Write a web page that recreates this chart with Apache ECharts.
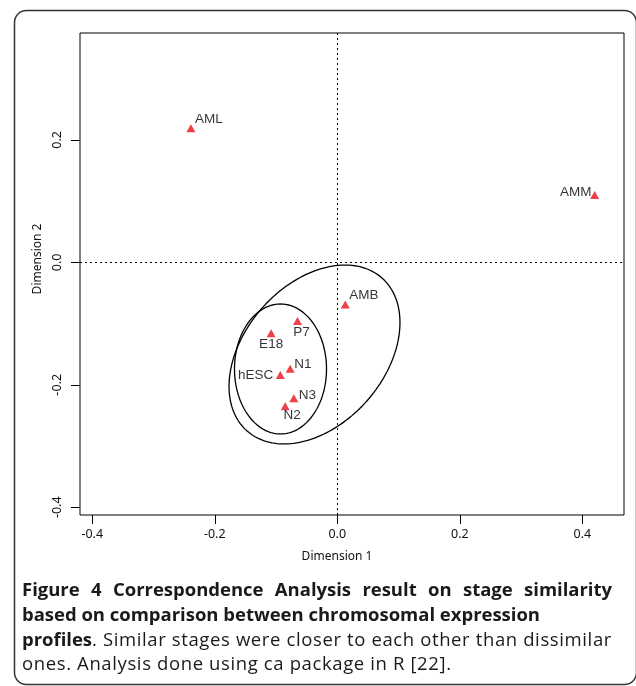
<!DOCTYPE html>
<html>
<head>
<meta charset="utf-8">
<script src="https://cdn.jsdelivr.net/npm/echarts@6/dist/echarts.min.js"></script>
<style>
  html, body { margin: 0; padding: 0; background: #fff; }
  #wrap { position: relative; width: 636px; height: 686px; overflow: hidden; }
  #chart { position: absolute; left: 0; top: 0; width: 636px; height: 686px; }
  #caption { position: absolute; left: 22px; top: 577px; width: 600px;
    font-family: "Open Sans", "Noto Sans", sans-serif; font-size: 18.5px; line-height: 24.8px; color: #1a1a1a; }
  #caption div { white-space: nowrap; display: inline-block; }
  #caption b { font-weight: 700; }
</style>
</head>
<body>
<div id="wrap">
  <div id="chart"></div>
  <div id="caption">
    <div id="cl1"><b>Figure 4 Correspondence Analysis result on stage similarity</b></div><br>
    <div id="cl2"><b>based on comparison between chromosomal expression</b></div><br>
    <div id="cl3"><b>profiles</b><span>. Similar stages were closer to each other than dissimilar</span></div><br>
    <div id="cl4">ones. Analysis done using ca package in R [22].</div>
  </div>
</div>
<script>
// ---- data ----
const stageNames = ['AML', 'AMM', 'AMB', 'P7', 'E18', 'N1', 'hESC', 'N3', 'N2'];
const dimension1 = [-0.239, 0.420, 0.013, -0.065, -0.108, -0.077, -0.093, -0.071, -0.085];
const dimension2 = [0.219, 0.110, -0.069, -0.096, -0.116, -0.174, -0.184, -0.222, -0.235];
const xTickValues = [-0.4, -0.2, 0.0, 0.2, 0.4];
const yTickValues = [-0.4, -0.2, 0.0, 0.2];
// ellipses: centre (dim1, dim2), semi-axes, rotation (degrees)
const ellipseCentre1 = [-0.0372, -0.0927];
const ellipseCentre2 = [-0.1505, -0.1742];
const ellipseSemiA = [0.1665, 0.0751];
const ellipseSemiB = [0.1143, 0.1061];
const ellipseAngle = [48.65, 0];

// ---- caption line fitting (layout only) ----
(function () {
  const cap = document.getElementById('caption');
  const l2 = document.getElementById('cl2');
  const lsBold = (518 - l2.getBoundingClientRect().width) / l2.textContent.length;
  cap.querySelectorAll('b').forEach(b => { b.style.letterSpacing = lsBold.toFixed(3) + 'px'; });
  const l3 = document.getElementById('cl3');
  const regChars = l3.querySelector('span').textContent.length;
  const lsReg = Math.max(0, (590 - l3.getBoundingClientRect().width) / regChars);
  cap.style.letterSpacing = lsReg.toFixed(3) + 'px';
  cap.querySelectorAll('b').forEach(b => { b.style.letterSpacing = lsBold.toFixed(3) + 'px'; });
  const l1 = document.getElementById('cl1');
  const spaces = (l1.textContent.match(/ /g) || []).length;
  l1.style.wordSpacing = ((590 - l1.getBoundingClientRect().width) / spaces).toFixed(3) + 'px';
})();

// ---- label placement (style) ----
const labelPlace = {
  AML:  { align: 'left',   verticalAlign: 'middle', offset: [4, -9] },
  AMM:  { align: 'right',  verticalAlign: 'middle', offset: [-3, -3] },
  AMB:  { align: 'left',   verticalAlign: 'middle', offset: [4, -9] },
  P7:   { align: 'center', verticalAlign: 'middle', offset: [4, 11] },
  E18:  { align: 'center', verticalAlign: 'middle', offset: [0, 11] },
  N1:   { align: 'left',   verticalAlign: 'middle', offset: [4, -5] },
  hESC: { align: 'right',  verticalAlign: 'middle', offset: [-7, 0] },
  N3:   { align: 'left',   verticalAlign: 'middle', offset: [5, -3] },
  N2:   { align: 'center', verticalAlign: 'middle', offset: [7, 9] }
};

const pointData = stageNames.map((n, i) => ({
  name: n,
  value: [dimension1[i], dimension2[i]],
  label: Object.assign({ show: true, position: 'inside', formatter: n }, labelPlace[n])
}));

const ellipseData = ellipseCentre1.map((c, i) => [c, ellipseCentre2[i], ellipseSemiA[i], ellipseSemiB[i], ellipseAngle[i]]);

const chart = echarts.init(document.getElementById('chart'), null, { renderer: 'canvas' });
const tickFont = { fontFamily: 'Noto Sans', fontSize: 12.5, color: '#111' };
const fmt = v => (Math.abs(v) < 1e-9 ? '0.0' : Number(v).toFixed(1));

chart.setOption({
  animation: false,
  backgroundColor: '#fff',
  graphic: [{
    type: 'rect', z: -10, silent: true,
    shape: { x: 14.5, y: 10.5, width: 622, height: 674, r: 12 },
    style: { fill: 'none', stroke: '#333', lineWidth: 1.5 }
  }],
  grid: { left: 80, top: 33, width: 544, height: 482, show: true, borderColor: '#000', borderWidth: 1, backgroundColor: 'transparent' },
  xAxis: {
    type: 'value', min: -0.42, max: 0.468, position: 'bottom',
    axisLine: { show: false, onZero: false },
    splitLine: { show: false },
    axisTick: { show: true, length: 9, lineStyle: { color: '#000' }, customValues: xTickValues },
    axisLabel: Object.assign({ margin: 13, formatter: fmt, customValues: xTickValues }, tickFont),
    name: 'Dimension 1', nameLocation: 'middle', nameGap: 36,
    nameTextStyle: { fontFamily: 'Noto Sans', fontSize: 12, color: '#111', padding: [0, 30, 0, 0] }
  },
  yAxis: {
    type: 'value', min: -0.4126, max: 0.3744, position: 'left',
    axisLine: { show: false, onZero: false },
    splitLine: { show: false },
    axisTick: { show: true, length: 9, lineStyle: { color: '#000' }, customValues: yTickValues },
    axisLabel: Object.assign({ margin: 16, rotate: 90, formatter: fmt, customValues: yTickValues }, tickFont),
    name: 'Dimension 2', nameLocation: 'middle', nameGap: 36,
    nameTextStyle: { fontFamily: 'Noto Sans', fontSize: 12, color: '#111', padding: [0, 0, 0, 30] }
  },
  series: [
    {
      type: 'custom', z: 2, silent: true,
      data: ellipseData,
      renderItem: function (params, api) {
        const cx = api.value(0), cy = api.value(1), a = api.value(2), b = api.value(3);
        const t = api.value(4) * Math.PI / 180;
        const pts = [];
        for (let k = 0; k <= 180; k++) {
          const s = k / 180 * 2 * Math.PI;
          const ex = a * Math.cos(s), ey = b * Math.sin(s);
          pts.push(api.coord([cx + ex * Math.cos(t) - ey * Math.sin(t), cy + ex * Math.sin(t) + ey * Math.cos(t)]));
        }
        return { type: 'polyline', shape: { points: pts }, style: { fill: null, stroke: '#000', lineWidth: 1.3 } };
      }
    },
    {
      type: 'scatter', z: 3,
      symbol: 'triangle', symbolSize: [9, 8],
      itemStyle: { color: '#e8101a' },
      label: { fontFamily: 'Liberation Sans', fontSize: 13.5, color: '#000' },
      data: pointData,
      markLine: {
        silent: true, symbol: 'none', label: { show: false },
        lineStyle: { type: [2, 3], color: '#000', width: 1 },
        data: [{ xAxis: 0 }, { yAxis: 0 }]
      }
    }
  ]
});
</script>
</body>
</html>
